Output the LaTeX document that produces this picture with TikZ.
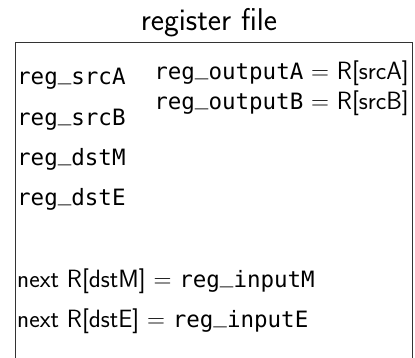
\documentclass[tikz,border=0pt]{standalone}
\usepackage{fontspec}
\setmonofont{DejaVu Sans Mono}[Scale=0.9]
% underscore set on the baseline
\newcommand{\us}{\raisebox{0.22em}{\_}}
\begin{document}
\begin{tikzpicture}[x=1pt,y=-1pt,
  lbl/.style={inner sep=0pt,anchor=base west,font=\sffamily\fontsize{25}{29}\selectfont},
  rlbl/.style={inner sep=0pt,anchor=base east,font=\sffamily\fontsize{25}{29}\selectfont},
  ttl/.style={inner sep=0pt,anchor=base,font=\sffamily\fontsize{31.5}{36}\selectfont},
  frame/.style={draw=black!80,line width=1pt}]
\useasboundingbox (0,0) rectangle (415,357);
% title above the register file
\node[ttl] (title) at (209,30) {register file};
% outline, open at the bottom
\draw[frame] (15,362) -- (15,42) -- (412,42) -- (412,362);
% input ports on the left
\node[lbl] (srcA) at (17,84) {\texttt{reg\us srcA}};
\node[lbl] (srcB) at (17,125) {\texttt{reg\us srcB}};
\node[lbl] (dstM) at (17,165) {\texttt{reg\us dstM}};
\node[lbl] (dstE) at (17,205) {\texttt{reg\us dstE}};
% read outputs
\node[rlbl] (outA) at (409,79) {\texttt{reg\us outputA} $=$ R[srcA]};
\node[rlbl] (outB) at (409,109) {\texttt{reg\us outputB} $=$ R[srcB]};
% writes on the clock edge
\node[lbl] (wM) at (17,287) {next R[dstM] $=$ \texttt{reg\us inputM}};
\node[lbl] (wE) at (17,327) {next R[dstE] $=$ \texttt{reg\us inputE}};
\end{tikzpicture}
\end{document}
